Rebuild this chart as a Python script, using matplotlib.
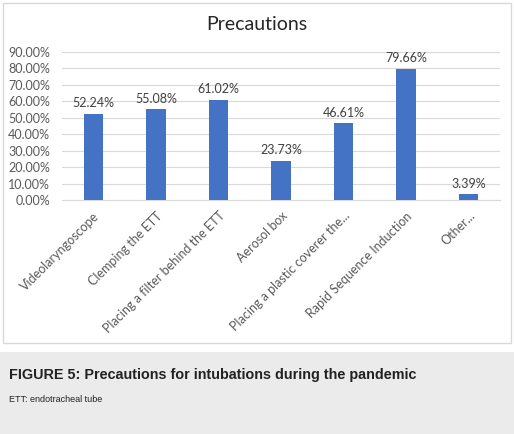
import numpy as np
import matplotlib.pyplot as plt
from matplotlib.patches import Rectangle

categories = ['Videolaryngoscope', 'Clemping the ETT', 'Placing a filter behind the ETT',
              'Aerosol box', 'Placing a plastic coverer the...', 'Rapid Sequence Induction',
              'Other...']
values = [52.24, 55.08, 61.02, 23.73, 46.61, 79.66, 3.39]
yticks = [0, 10, 20, 30, 40, 50, 60, 70, 80, 90]

plt.rcParams['font.family'] = ['Lato', 'DejaVu Sans']

fig = plt.figure(figsize=(5.14, 4.34), dpi=100)
fig.patch.set_facecolor('white')

# gray caption band + chart frame (behind the axes)
fig.patches.append(Rectangle((0, 0), 1, 82 / 434, transform=fig.transFigure,
                             facecolor='#ebebeb', edgecolor='none', zorder=-2))
fig.patches.append(Rectangle((3 / 514, 1 - 343 / 434), 508 / 514, 340 / 434,
                             transform=fig.transFigure, facecolor='white',
                             edgecolor='#d9d9d9', linewidth=1, zorder=-1))

ax = fig.add_axes([62 / 514, 1 - 200 / 434, 438 / 514, 148 / 434])
ax.set_facecolor('none')
x = np.arange(len(categories))
ax.bar(x, values, width=0.31, color='#4472c4', zorder=3)
for xi, v in zip(x, values):
    ax.text(xi, v + 2.8, f'{v:.2f}%', ha='center', va='bottom', fontsize=9, color='#404040')

ax.set_xlim(-0.5, len(categories) - 0.5)
ax.set_ylim(0, 90)
ax.set_yticks(yticks)
ax.set_yticklabels([f'{t:.2f}%' for t in yticks], fontsize=9, color='#595959')
ax.set_xticks(x)
ax.set_xticklabels(categories, rotation=45, ha='right', rotation_mode='anchor',
                   fontsize=9, color='#595959')
ax.tick_params(axis='y', length=0, pad=8.5)
ax.tick_params(axis='x', length=0, pad=7)
ax.grid(axis='y', color='#d9d9d9', linewidth=0.8, zorder=0)
for s in ['top', 'right', 'left']:
    ax.spines[s].set_visible(False)
ax.spines['bottom'].set_color('#d9d9d9')

fig.text(257 / 514, 1 - 25 / 434, 'Precautions', fontsize=14, color='#262626',
         ha='center', va='center')

fig.text(9 / 514, 1 - 375 / 434, 'FIGURE 5: Precautions for intubations during the pandemic',
         fontsize=10.4, fontweight='bold', color='#222222', family='Liberation Sans', va='center')
fig.text(9 / 514, 1 - 400 / 434, 'ETT: endotracheal tube', fontsize=6.5, color='#222222',
         family='Liberation Sans', va='center')

fig.savefig('out.png', dpi=100)
